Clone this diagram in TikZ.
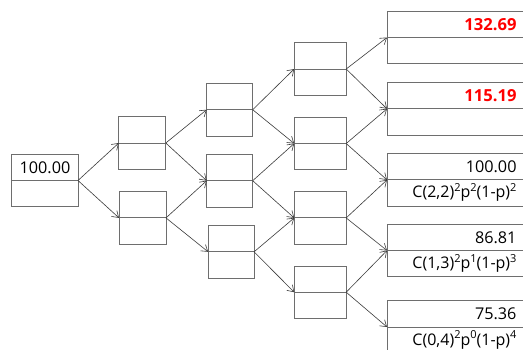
\documentclass[tikz,border=0pt]{standalone}
\usepackage{fontspec}
\setmainfont{Open Sans}
\usetikzlibrary{arrows.meta}
\definecolor{boxgray}{HTML}{6E6E6E}
\definecolor{linkgray}{HTML}{3C3C3C}
\definecolor{hot}{HTML}{FF0000}
\newcommand{\sq}[1]{\raisebox{0.42em}{\fontsize{11}{12}\selectfont #1}}
\begin{document}
\begin{tikzpicture}[x=1pt,y=-1pt,
  cell/.style={draw=boxgray, line width=0.9pt, minimum width=#1, minimum height=52.5pt,
               inner sep=0pt, outer sep=0pt},
  divider/.style={draw=boxgray, line width=0.9pt},
  link/.style={draw=linkgray, line width=0.6pt, -{Straight Barb[length=6pt,width=8pt]}},
  val/.style={anchor=east, inner sep=0pt, font=\fontsize{16.2}{19}\selectfont},
  formula/.style={anchor=east, inner sep=0pt, font=\fontsize{16}{19}\selectfont},
  hotval/.style={anchor=east, inner sep=0pt, text=hot, font=\fontsize{16.6}{19}\selectfont\bfseries},
]
\clip (0,0) rectangle (523,349);
\fill[white] (0,0) rectangle (523,349);

% root
\node[cell=67pt] (r) at (44.5,180.5) {};
% level 1
\node[cell=47pt] (a1) at (142.3,143) {};
\node[cell=47pt] (a2) at (142.5,217.9) {};
% level 2
\node[cell=46pt] (b1) at (229.7,109.7) {};
\node[cell=46pt] (b2) at (229.7,180.7) {};
\node[cell=46pt] (b3) at (231.1,251.8) {};
% level 3
\node[cell=52pt] (c1) at (320.2,69) {};
\node[cell=52pt] (c2) at (320.2,143.5) {};
\node[cell=52pt] (c3) at (320.2,217.9) {};
\node[cell=52pt] (c4) at (320.2,292.2) {};
% level 4 (open to the right)
\node[cell=150pt] (d1) at (462,37.5) {};
\node[cell=150pt] (d2) at (462,108.8) {};
\node[cell=150pt] (d3) at (462,179.9) {};
\node[cell=150pt] (d4) at (462,250.5) {};
\node[cell=150pt] (d5) at (462,327) {};

% middle dividers
\foreach \n in {r,a1,a2,b1,b2,b3,c1,c2,c3,c4,d1,d2,d3,d4,d5}
  \draw[divider] (\n.west) -- (\n.east);

% connectors
\draw[link] (r.east) -- (a1.west);
\draw[link] (r.east) -- (a2.west);
\draw[link] (a1.east) -- (b1.west);
\draw[link] (a1.east) -- (b2.west);
\draw[link] (a2.east) -- (b2.west);
\draw[link] (a2.east) -- (b3.west);
\draw[link] (b1.east) -- (c1.west);
\draw[link] (b1.east) -- (c2.west);
\draw[link] (b2.east) -- (c2.west);
\draw[link] (b2.east) -- (c3.west);
\draw[link] (b3.east) -- (c3.west);
\draw[link] (b3.east) -- (c4.west);
\draw[link] (c1.east) -- (d1.west);
\draw[link] (c1.east) -- (d2.west);
\draw[link] (c2.east) -- (d2.west);
\draw[link] (c2.east) -- (d3.west);
\draw[link] (c3.east) -- (d3.west);
\draw[link] (c3.east) -- (d4.west);
\draw[link] (c4.east) -- (d4.west);
\draw[link] (c4.east) -- (d5.west);

% values
\node[val] (rv) at (70.5,167.3) {100.00};
\node[hotval] (d1v) at (516.7,24.5) {132.69};
\node[hotval] (d2v) at (516.7,95.7) {115.19};
\node[val] (d3v) at (516.7,166.6) {100.00};
\node[val] (d4v) at (516.7,237.4) {86.81};
\node[val] (d5v) at (516.7,313.8) {75.36};
\node[formula] (d3p) at (516.7,192.3) {C(2,2)\sq{2}p\sq{2}(1-p)\sq{2}};
\node[formula] (d4p) at (516.7,263.3) {C(1,3)\sq{2}p\sq{1}(1-p)\sq{3}};
\node[formula] (d5p) at (516.7,339.8) {C(0,4)\sq{2}p\sq{0}(1-p)\sq{4}};
\end{tikzpicture}
\end{document}
